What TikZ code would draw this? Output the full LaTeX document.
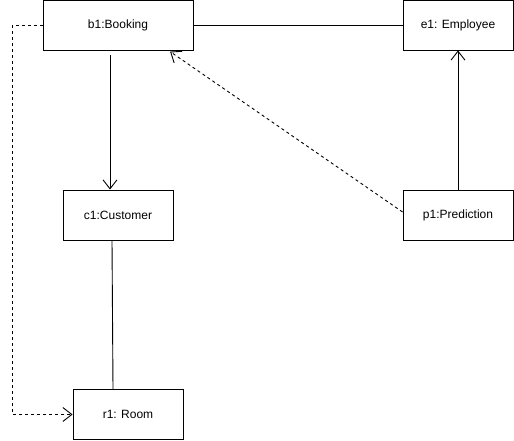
\documentclass[tikz,border=0pt]{standalone}
\usepackage{fontspec}
\setmainfont{Liberation Sans}
\usetikzlibrary{arrows.meta}

\begin{document}
\begin{tikzpicture}[x=1pt,y=1pt]
\tikzstyle{every node}+=[font=\fontsize{12}{14}\selectfont]
\tikzstyle{objbox}=[draw=black,line width=0.9pt,minimum width=110pt,minimum height=50pt,inner sep=0pt]
\tikzstyle{link}=[black,line width=0.9pt]
\tikzstyle{dep}=[black,line width=0.9pt,dash pattern=on 3pt off 3pt]
\tikzstyle{open}=[-{Straight Barb[length=9pt,width=14pt,line width=0.9pt]}]
\useasboundingbox (0,0) rectangle (514,-441);
\node [objbox,minimum width=150pt] (b1) at (118,-25) {b1:Booking};
\node [objbox] (e1) at (458,-25) {e1: Employee};
\node [objbox] (c1) at (118,-215) {c1:Customer};
\node [objbox] (p1) at (458,-215) {p1:Prediction};
\node [objbox] (r1) at (128,-414.5) {r1: Room};
\draw [link] (b1.east) -- (e1.west);
\draw [link,open,shorten <=5pt] ([xshift=-8pt]b1.south) -- ([xshift=-8pt]c1.north);
\draw [link,open] (p1.north) -- (e1.south);
\draw [dep,open,shorten >=2pt] ([yshift=3pt]p1.west) -- ([xshift=-25pt]b1.south east);
\draw [link] ([xshift=-6pt]c1.south) -- ([xshift=-15pt]r1.north);
\draw [dep,open] (b1.west) -- ++(-30,0) |- (r1.west);
\end{tikzpicture}
\end{document}
